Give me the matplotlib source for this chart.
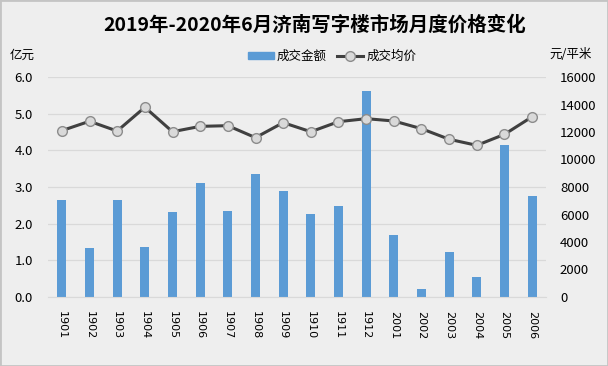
import matplotlib
matplotlib.use("Agg")
import matplotlib.pyplot as plt
import numpy as np
from matplotlib.patches import Patch, Rectangle
from matplotlib.lines import Line2D

plt.rcParams['font.family'] = ['Noto Sans CJK SC', 'DejaVu Sans']

# data
months = ['1901', '1902', '1903', '1904', '1905', '1906', '1907', '1908', '1909',
          '1910', '1911', '1912', '2001', '2002', '2003', '2004', '2005', '2006']
amount = [2.65, 1.33, 2.65, 1.37, 2.32, 3.12, 2.34, 3.35, 2.90,
          2.26, 2.48, 5.61, 1.68, 0.22, 1.23, 0.54, 4.14, 2.75]   # 亿元
price = [12100, 12780, 12070, 13800, 12020, 12410, 12460, 11590, 12680,
         12020, 12750, 12970, 12800, 12240, 11470, 11030, 11830, 13110]  # 元/平米
left_ticks = [0, 1, 2, 3, 4, 5, 6]
right_ticks = [0, 2000, 4000, 6000, 8000, 10000, 12000, 14000, 16000]

bar_color = '#5b9bd5'
line_color = '#404040'
grid_color = '#d9d9d9'

fig = plt.figure(figsize=(6.08, 3.66), dpi=100)
fig.patch.set_facecolor('#eeeeee')
fig.patches.append(Rectangle((0, 0), 1, 1, transform=fig.transFigure, fill=False,
                             edgecolor='#c4c4c4', linewidth=2))

ax = fig.add_axes([48/608, 1 - 297/366, 498/608, 220/366])
ax.set_facecolor('none')
x = np.arange(len(months))
ax.bar(x, amount, width=0.32, color=bar_color, zorder=2)
ax.set_xlim(-0.5, len(months) - 0.5)
ax.set_ylim(0, 6)
ax.set_yticks(left_ticks)
ax.set_yticklabels(['%.1f' % v for v in left_ticks], fontsize=9.5)
ax.yaxis.grid(True, color=grid_color, linewidth=0.9, zorder=0)
ax.set_axisbelow(True)
ax.set_xticks(x)
ax.set_xticklabels(months, rotation=-90, fontsize=8,
                   family=['Liberation Sans Narrow', 'DejaVu Sans'])
ax.tick_params(axis='both', length=0)
ax.tick_params(axis='y', pad=11)
ax.tick_params(axis='x', pad=10)
for s in ['top', 'left', 'right']:
    ax.spines[s].set_visible(False)
ax.spines['bottom'].set_color(grid_color)

ax2 = ax.twinx()
ax2.plot(x, price, color=line_color, linewidth=2.2, marker='o', markersize=7,
         markerfacecolor='#d9d9d9', markeredgecolor='#8c8c8c', markeredgewidth=1, zorder=3)
ax2.set_ylim(0, 16000)
ax2.set_yticks(right_ticks)
ax2.set_yticklabels([str(v) for v in right_ticks], fontsize=9.5)
ax2.tick_params(axis='y', length=0, pad=10)
for s in ['top', 'left', 'right', 'bottom']:
    ax2.spines[s].set_visible(False)

fig.text(315/608, 1 - 25/366, '2019年-2020年6月济南写字楼市场月度价格变化',
         ha='center', va='center', fontsize=14, fontweight='bold')
fig.text(10/608, 1 - 55/366, '亿元', ha='left', va='center', fontsize=9)
fig.text(592/608, 1 - 55/366, '元/平米', ha='right', va='center', fontsize=9)

handles = [Patch(color=bar_color),
           Line2D([], [], color=line_color, linewidth=2.2, marker='o', markersize=7,
                  markerfacecolor='#d9d9d9', markeredgecolor='#8c8c8c')]
fig.legend(handles, ['成交金额', '成交均价'], loc='center', ncol=2,
           bbox_to_anchor=(332/608, 1 - 56/366), frameon=False, fontsize=9,
           handlelength=2.1, handleheight=0.5, handletextpad=0.25, columnspacing=0.8)

fig.savefig('out.png', dpi=100, facecolor=fig.get_facecolor())
